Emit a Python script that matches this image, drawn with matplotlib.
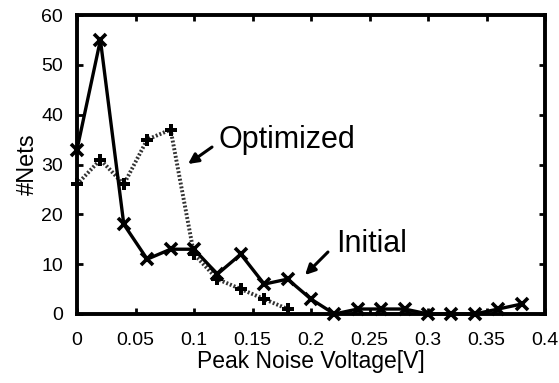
import numpy as np
import matplotlib
matplotlib.use("Agg")
import matplotlib.pyplot as plt

plt.rcParams['font.family'] = ['Liberation Sans', 'DejaVu Sans']

voltage = [0.00, 0.02, 0.04, 0.06, 0.08, 0.10, 0.12, 0.14, 0.16, 0.18,
           0.20, 0.22, 0.24, 0.26, 0.28, 0.30, 0.32, 0.34, 0.36, 0.38]
initial = [33, 55, 18, 11, 13, 13, 8, 12, 6, 7, 3, 0, 1, 1, 1, 0, 0, 0, 1, 2]

opt_voltage = [0.00, 0.02, 0.04, 0.06, 0.08, 0.10, 0.12, 0.14, 0.16, 0.18]
optimized = [26, 31, 26, 35, 37, 12, 7, 5, 3, 1]

fig = plt.figure(figsize=(5.59, 3.83), dpi=100)
ax = fig.add_axes([77 / 559, 1 - 314 / 383, 468 / 559, 299 / 383])

ax.plot(opt_voltage, optimized, color='#333333', linestyle=(0, (0.5, 0.5)), linewidth=2.8,
        marker='P', markersize=8, markeredgewidth=0, markerfacecolor='black', clip_on=False)
ax.plot(voltage, initial, color='black', linestyle='-', linewidth=2.4,
        marker='x', markersize=8, markeredgewidth=2.6, clip_on=False)

ax.set_xlim(0, 0.4)
ax.set_ylim(0, 60)
ax.set_xticks([0, 0.05, 0.1, 0.15, 0.2, 0.25, 0.3, 0.35, 0.4])
ax.set_xticklabels(['0', '0.05', '0.1', '0.15', '0.2', '0.25', '0.3', '0.35', '0.4'])
ax.set_yticks([0, 10, 20, 30, 40, 50, 60])
ax.tick_params(direction='in', top=True, right=True, length=4, width=2, labelsize=14)
ax.tick_params(axis='x', pad=13)
ax.tick_params(axis='y', pad=10)
for s in ax.spines.values():
    s.set_linewidth(2.8)

ax.set_xlabel('Peak Noise Voltage[V]', fontsize=16.5, labelpad=1)
ax.set_ylabel('#Nets', fontsize=17, labelpad=2)

ax.text(0.179, 33.3, 'Optimized', fontsize=22, ha='center', va='baseline')
ax.text(0.2521, 12.44, 'Initial', fontsize=22, ha='center', va='baseline')
ax.annotate('', xy=(0.0949, 30.1), xytext=(0.1154, 33.5),
            arrowprops=dict(arrowstyle='-|>', color='black', lw=2.2,
                            mutation_scale=15, shrinkA=0, shrinkB=0))
ax.annotate('', xy=(0.1949, 7.82), xytext=(0.2145, 12.44),
            arrowprops=dict(arrowstyle='-|>', color='black', lw=2.2,
                            mutation_scale=15, shrinkA=0, shrinkB=0))

fig.savefig('out.png', dpi=100)
